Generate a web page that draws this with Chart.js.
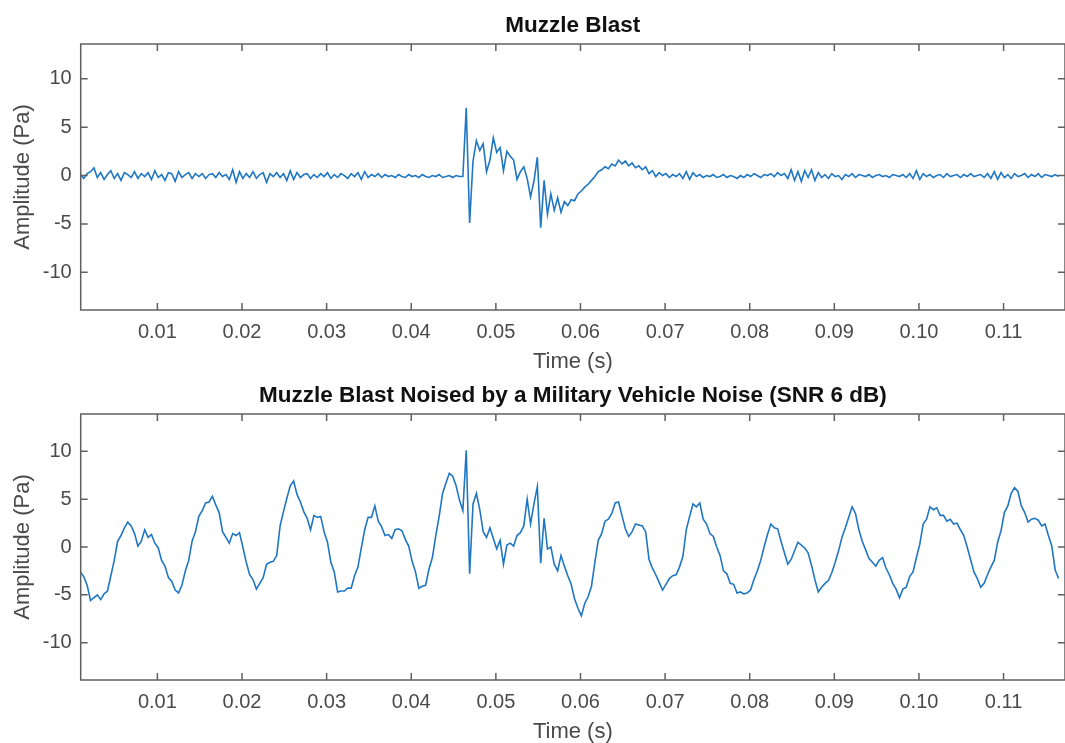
<!DOCTYPE html>
<html>
<head>
<meta charset="utf-8">
<script src="https://cdn.jsdelivr.net/npm/chart.js@4.4.0/dist/chart.umd.min.js"></script>
<style>
  body { margin: 0; width: 1065px; height: 743px; overflow: hidden; background: #fff; position: relative; }
  canvas { position: absolute; left: 0; }
  #blastChart { top: 0; }
  #noisyChart { top: 370px; }
</style>
</head>
<body>
<canvas id="blastChart" width="1065" height="385"></canvas>
<canvas id="noisyChart" width="1065" height="385"></canvas>
<script>
// sampling of the recorded signals (seconds)
const sampleStart = 0.0009;
const sampleStep = 0.0004;

// clean muzzle blast (Pa)
const blastAmp = [
  0.1, -0.3, 0.2, 0.4, 0.8, -0.2, 0.3, -0.4, 0.1, 0.5,
  -0.3, 0.2, -0.5, 0.3, 0.1, -0.2, 0.4, -0.3, 0.2, -0.1,
  0.3, -0.4, 0.5, -0.2, 0.1, -0.5, 0.3, 0.2, -0.6, 0.4,
  -0.2, 0.1, 0.3, -0.3, 0.2, -0.1, 0.2, -0.3, 0.1, 0.2,
  -0.2, 0.3, -0.1, 0.1, -0.4, 0.6, -0.7, 0.4, -0.3, 0.2,
  -0.2, 0.4, -0.3, 0.1, 0.3, -0.7, 0.2, -0.1, 0.3, -0.2,
  0.2, -0.5, 0.5, -0.4, 0.3, -0.2, 0.1, 0.2, -0.3, 0.1,
  -0.2, 0.2, -0.1, 0.3, -0.3, 0.1, -0.2, 0.2, 0.0, -0.3,
  0.2, -0.1, 0.3, -0.4, 0.4, -0.2, 0.1, -0.1, 0.2, -0.2,
  0.1, -0.1, 0.0, -0.2, 0.1, -0.1, -0.2, 0.1, -0.1, 0.0,
  -0.2, 0.1, -0.1, -0.2, 0.0, -0.1, 0.1, -0.2, -0.1, 0.0,
  -0.2, 0.0, -0.1, -0.1, 7.0, -4.9, 1.5, 3.6, 2.6, 3.3,
  0.4, 1.6, 3.9, 2.4, 2.9, 0.5, 2.5, 2.0, 1.6, -0.4,
  0.4, 0.9, -0.3, -2.2, -0.6, 1.9, -5.4, -0.5, -4.0, -1.9,
  -3.6, -2.3, -3.8, -2.7, -3.1, -2.5, -2.6, -1.9, -1.6, -1.2,
  -0.9, -0.5, -0.1, 0.4, 0.6, 0.9, 0.7, 1.2, 1.0, 1.6,
  1.2, 1.5, 1.0, 1.3, 0.8, 1.0, 0.6, 0.9, 0.2, 0.5,
  -0.1, 0.3, 0.0, 0.2, -0.2, 0.1, -0.1, 0.2, -0.3, 0.4,
  -0.4, 0.3, -0.1, 0.1, -0.2, 0.0, -0.1, 0.1, -0.2, -0.1,
  0.1, -0.2, 0.0, -0.1, -0.3, 0.0, -0.2, 0.1, -0.1, 0.2,
  0.0, -0.2, 0.1, 0.0, 0.2, -0.1, 0.3, 0.0, 0.2, -0.3,
  0.6, -0.5, 0.4, -0.6, 0.5, -0.2, 0.6, -0.5, 0.3, -0.2,
  0.1, -0.3, 0.2, -0.1, 0.0, -0.4, 0.1, -0.1, 0.2, -0.2,
  0.1, 0.0, -0.1, 0.1, -0.2, 0.0, 0.1, -0.1, 0.0, -0.2,
  0.1, 0.0, -0.1, 0.1, -0.2, 0.2, -0.3, 0.5, -0.4, 0.2,
  -0.1, 0.1, -0.2, 0.0, 0.1, -0.2, 0.2, -0.1, 0.0, 0.1,
  -0.2, 0.1, -0.1, 0.2, -0.1, 0.0, 0.1, -0.2, 0.2, -0.3,
  0.4, -0.4, 0.3, -0.2, 0.1, -0.3, 0.2, -0.1, 0.0, 0.2,
  -0.2, 0.1, -0.1, 0.2, -0.2, 0.1, 0.0, -0.1, 0.1, -0.1,
];

// same blast with military vehicle noise added (Pa)
const noisyAmp = [
  -2.6, -3.1, -4.0, -5.6, -5.3, -5.0, -5.5, -4.9, -4.6, -3.0,
  -1.4, 0.6, 1.2, 2.0, 2.6, 2.2, 1.4, 0.1, 0.6, 1.8,
  1.0, 1.3, 0.4, -0.1, -1.4, -2.0, -3.2, -3.6, -4.5, -4.8,
  -4.0, -2.5, -1.4, 0.6, 1.6, 3.2, 3.8, 4.6, 4.7, 5.3,
  4.4, 3.6, 1.6, 1.0, 0.4, 1.4, 1.2, 1.5, 0.0, -1.6,
  -2.9, -3.4, -4.4, -3.8, -3.2, -1.8, -1.6, -1.5, -0.9, 2.2,
  3.7, 5.1, 6.4, 6.9, 5.5, 4.7, 3.7, 3.0, 1.8, 3.3,
  3.1, 3.2, 1.6, 0.5, -1.6, -2.6, -4.7, -4.6, -4.6, -4.3,
  -4.3, -3.0, -2.1, -0.1, 1.8, 3.1, 3.1, 4.3, 2.7, 2.1,
  1.2, 1.3, 0.9, 1.8, 1.9, 1.7, 0.8, 0.1, -1.5, -2.6,
  -4.3, -4.1, -4.0, -2.3, -1.1, 1.2, 3.2, 5.6, 6.7, 7.7,
  7.4, 6.4, 4.9, 3.8, 10.1, -2.8, 4.5, 5.6, 3.9, 1.6,
  1.0, 2.0, 0.9, -0.2, 0.7, -1.8, 0.2, 0.4, 0.1, 1.2,
  1.5, 2.2, 5.0, 2.4, 4.5, 6.3, -1.7, 3.0, -0.2, 0.0,
  -1.8, -2.5, -0.9, -2.0, -3.0, -3.9, -5.4, -6.4, -7.2, -5.9,
  -5.2, -4.1, -1.6, 0.7, 1.4, 2.7, 2.9, 3.5, 4.6, 4.7,
  3.3, 1.9, 1.1, 1.6, 2.4, 2.3, 2.2, 1.6, -1.3, -2.2,
  -2.9, -3.7, -4.5, -3.9, -3.3, -3.0, -2.9, -2.1, -1.0, 1.8,
  3.2, 4.5, 4.2, 4.6, 2.9, 2.4, 1.4, 1.1, 0.0, -0.9,
  -2.5, -2.8, -3.8, -3.9, -4.8, -4.7, -4.9, -4.8, -4.5, -3.4,
  -2.5, -1.4, 0.0, 1.3, 2.4, 2.0, 1.9, 0.6, -0.6, -1.8,
  -1.3, -0.4, 0.5, 0.2, -0.1, -0.6, -1.9, -3.4, -4.7, -4.2,
  -3.8, -3.5, -2.7, -1.6, -0.4, 1.0, 2.0, 3.1, 4.2, 3.5,
  1.8, 0.6, -0.3, -1.2, -1.6, -2.0, -1.4, -1.1, -2.2, -2.9,
  -3.8, -4.4, -5.3, -4.4, -4.2, -3.1, -2.6, -1.1, 0.3, 2.4,
  2.9, 4.2, 3.9, 4.1, 3.3, 3.3, 2.7, 2.9, 2.4, 2.5,
  1.8, 1.2, 0.0, -1.3, -2.6, -3.3, -4.2, -3.8, -2.9, -2.1,
  -1.4, 0.5, 1.7, 3.6, 4.3, 5.6, 6.2, 5.8, 4.3, 3.6,
  2.6, 2.9, 3.0, 2.8, 2.2, 2.4, 1.2, 0.1, -2.4, -3.3,
];

// axis ticks
const timeTicks = [0.01, 0.02, 0.03, 0.04, 0.05, 0.06, 0.07, 0.08, 0.09, 0.1, 0.11];
const timeTickLabels = ["0.01", "0.02", "0.03", "0.04", "0.05", "0.06", "0.07", "0.08", "0.09", "0.10", "0.11"];
const ampTicks = [-10, -5, 0, 5, 10];
const ampTickLabels = ["-10", "-5", "0", "5", "10"];

const FONT = "'Liberation Sans', Arial, Helvetica, sans-serif";
const GREY = "#4a4a4a";

// matlab style box with ticks pointing inwards
const matlabBox = {
  id: "matlabBox",
  afterDatasetsDraw(chart) {
    const { ctx, chartArea: a, scales } = chart;
    ctx.save();
    ctx.strokeStyle = "#606060";
    ctx.lineWidth = 1.5;
    ctx.strokeRect(a.left, a.top, a.right - a.left, a.bottom - a.top);
    ctx.beginPath();
    for (const t of scales.x.ticks) {
      const px = scales.x.getPixelForValue(t.value);
      ctx.moveTo(px, a.bottom);
      ctx.lineTo(px, a.bottom - 7);
      ctx.moveTo(px, a.top);
      ctx.lineTo(px, a.top + 7);
    }
    for (const t of scales.y.ticks) {
      const py = scales.y.getPixelForValue(t.value);
      ctx.moveTo(a.left, py);
      ctx.lineTo(a.left + 7, py);
      ctx.moveTo(a.right, py);
      ctx.lineTo(a.right - 7, py);
    }
    ctx.stroke();
    ctx.restore();
  },
};

function makeChart(id, title, amp, yMin, yMax) {
  const points = amp.map((v, i) => ({ x: sampleStart + i * sampleStep, y: v }));
  return new Chart(document.getElementById(id), {
    type: "line",
    data: {
      datasets: [
        {
          data: points,
          borderColor: "#1f77c4",
          borderWidth: 1.6,
          pointRadius: 0,
          tension: 0,
        },
      ],
    },
    options: {
      responsive: false,
      animation: false,
      devicePixelRatio: 1,
      layout: { padding: { left: 0, right: -4, top: 0, bottom: 0 } },
      plugins: {
        legend: { display: false },
        tooltip: { enabled: false },
        title: {
          display: true,
          text: title,
          fullSize: false,
          color: "#111",
          font: { family: FONT, size: 22.5, weight: "bold" },
          padding: { top: 12.5, bottom: 4.5 },
        },
      },
      scales: {
        x: {
          type: "linear",
          min: 0.000937,
          max: 0.11726,
          grid: { display: false, drawTicks: false },
          border: { display: false },
          afterBuildTicks: (scale) => {
            scale.ticks = timeTicks.map((v) => ({ value: v }));
          },
          afterFit: (scale) => {
            scale.height = 75;
          },
          ticks: {
            padding: 10,
            color: GREY,
            font: { family: FONT, size: 20 },
            maxRotation: 0,
            callback: (v, i) => timeTickLabels[i],
          },
          title: {
            display: true,
            text: "Time (s)",
            color: GREY,
            font: { family: FONT, size: 22 },
            padding: { top: 0, bottom: 9.8 },
          },
        },
        y: {
          min: yMin,
          max: yMax,
          grid: { display: false, drawTicks: false },
          border: { display: false },
          afterBuildTicks: (scale) => {
            scale.ticks = ampTicks.map((v) => ({ value: v }));
          },
          afterFit: (scale) => {
            scale.width = 80.7;
          },
          ticks: {
            padding: 9,
            color: GREY,
            font: { family: FONT, size: 20 },
            callback: (v, i) => ampTickLabels[i],
          },
          title: {
            display: true,
            text: "Amplitude (Pa)",
            color: GREY,
            font: { family: FONT, size: 22 },
            padding: { top: 10, bottom: 0 },
          },
        },
      },
    },
    plugins: [matlabBox],
  });
}

makeChart("blastChart", "Muzzle Blast", blastAmp, -13.9, 13.6);
makeChart("noisyChart", "Muzzle Blast Noised by a Military Vehicle Noise (SNR 6 dB)", noisyAmp, -13.9, 13.9);
</script>
</body>
</html>
